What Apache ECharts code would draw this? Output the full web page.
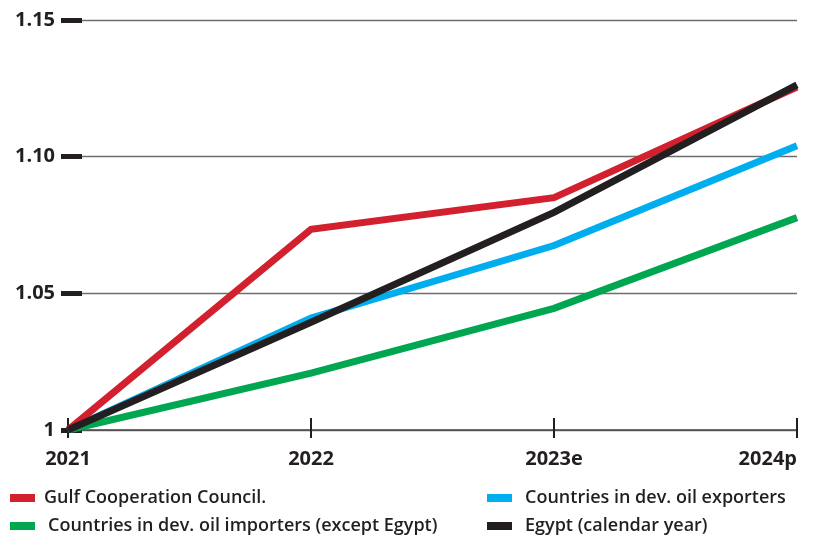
<!DOCTYPE html>
<html>
<head>
<meta charset="utf-8">
<script src="https://cdn.jsdelivr.net/npm/echarts@6/dist/echarts.min.js"></script>
<style>
  html, body { margin: 0; padding: 0; background: #fff; }
  #chart { width: 813px; height: 536px; }
</style>
</head>
<body>
<div id="chart"></div>
<script>
// categories and values
const years = ['2021', '2022', '2023e', '2024p']
const yTickLabels = ['1', '1.05', '1.10', '1.15']

const gccValues = [1.0, 1.0734, 1.085, 1.1255]
const importersValues = [1.0, 1.0208, 1.0445, 1.0777]
const exportersValues = [1.0, 1.041, 1.0675, 1.104]
const egyptValues = [1.0, 1.0394, 1.0796, 1.1263]

const names = {
  gcc: 'Gulf Cooperation Council.',
  importers: 'Countries in dev. oil importers (except Egypt)',
  exporters: 'Countries in dev. oil exporters',
  egypt: 'Egypt (calendar year)',
}

const colors = {
  gcc: '#d2202f',
  importers: '#00a650',
  exporters: '#00aeef',
  egypt: '#231f20',
}

const font = '"Open Sans", Lato, sans-serif'
const ink = '#231f20'

const chart = echarts.init(document.getElementById('chart'))

// one legend block per entry so they sit in two columns
const legendAt = (name, left, top, pad) => ({
  data: [name],
  left,
  top,
  orient: 'horizontal',
  icon: 'rect',
  itemWidth: 25,
  itemHeight: 8,
  selectedMode: false,
  textStyle: {
    fontFamily: font,
    fontSize: 18,
    fontWeight: 600,
    color: ink,
    padding: [0, 0, 0, pad],
  },
})

const makeLine = (name, data, color, z) => ({
  name,
  type: 'line',
  data,
  symbol: 'none',
  z,
  lineStyle: { color, width: 7, cap: 'butt', join: 'miter' },
  itemStyle: { color },
  emphasis: { disabled: true },
})

const option = {
  animation: false,
  grid: { left: 68, right: 16, top: 20, bottom: 106, containLabel: false },
  legend: [
    legendAt(names.gcc, 5, 484, 4),
    legendAt(names.importers, 5, 512, 8),
    legendAt(names.exporters, 482, 484, 8),
    legendAt(names.egypt, 482, 512, 8),
  ],
  xAxis: [
    {
      type: 'category',
      data: years,
      boundaryGap: false,
      axisLine: { lineStyle: { color: '#4a4a4a', width: 1.5 } },
      axisTick: { show: true, inside: true, length: 12, alignWithLabel: true, lineStyle: { color: ink, width: 2 } },
      axisLabel: {
        margin: 19,
        fontFamily: font,
        fontSize: 20,
        fontWeight: 'bold',
        color: ink,
        alignMaxLabel: 'right',
      },
      splitLine: { show: false },
    },
    {
      type: 'category',
      data: years,
      boundaryGap: false,
      position: 'bottom',
      axisLine: { show: false },
      axisTick: { show: true, inside: false, length: 8, lineStyle: { color: ink, width: 2 } },
      axisLabel: { show: false },
    },
  ],
  yAxis: [
    {
      type: 'value',
      min: 1,
      max: 1.15,
      interval: 0.05,
      axisLine: { show: false },
      axisTick: { show: true, inside: true, length: 14, lineStyle: { color: ink, width: 5 } },
      axisLabel: {
        margin: 13,
        fontFamily: font,
        fontSize: 20,
        fontWeight: 'bold',
        color: ink,
        formatter: (v) => yTickLabels[Math.round((v - 1) / 0.05)],
      },
      splitLine: { show: true, lineStyle: { color: '#6d6d6d', width: 1.3 } },
    },
    {
      type: 'value',
      min: 1,
      max: 1.15,
      interval: 0.05,
      position: 'left',
      axisLine: { show: false },
      axisTick: { show: true, inside: false, length: 7, lineStyle: { color: ink, width: 5 } },
      axisLabel: { show: false },
      splitLine: { show: false },
    },
  ],
  series: [
    makeLine(names.importers, importersValues, colors.importers, 2),
    makeLine(names.exporters, exportersValues, colors.exporters, 3),
    makeLine(names.gcc, gccValues, colors.gcc, 4),
    makeLine(names.egypt, egyptValues, colors.egypt, 5),
  ],
}

chart.setOption(option)
</script>
</body>
</html>
